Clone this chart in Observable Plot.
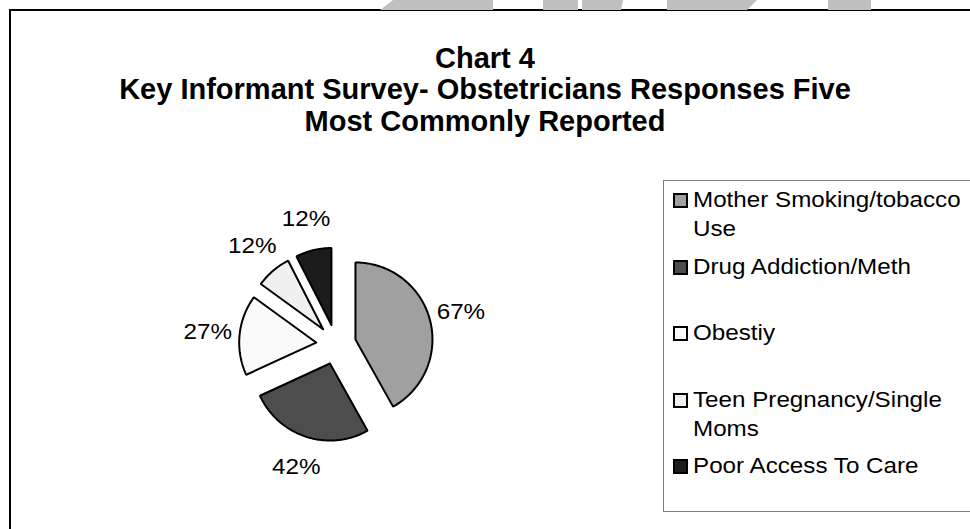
<!DOCTYPE html>
<html>
<head>
<meta charset="utf-8">
<script src="https://cdn.jsdelivr.net/npm/d3@7"></script>
<script src="https://cdn.jsdelivr.net/npm/@observablehq/plot@0.6"></script>
<style>
  html, body { margin: 0; padding: 0; width: 970px; height: 529px; overflow: hidden; background: #fff; }
  #frame { position: absolute; left: 9px; top: 9px; width: 2000px; height: 2000px; border-left: 2px solid #000; border-top: 2px solid #000; }
  .wm { position: absolute; top: 0; height: 10px; background: #c0c0c0; }
  #title { position: absolute; left: 0; top: 42.5px; width: 970px; text-align: center;
           font-family: "Liberation Sans Narrow", "Arial Narrow", "Liberation Sans", sans-serif;
           font-weight: bold; font-size: 29px; line-height: 31.5px; color: #000; }
  #chart { position: absolute; left: 0; top: 0; }
  #legend { position: absolute; left: 663px; top: 180px; width: 400px; height: 330px;
            border: 1.5px solid #7f7f7f; background: #fff; }
  .item { position: absolute; left: 0; width: 300px; height: 66px; }
  .sw { position: absolute; left: 9px; top: 8px; width: 11px; height: 11px; border: 2px solid #000; }
  .lt { position: absolute; left: 29px; top: 0; width: 248px; font-family: "Liberation Sans", Arial, sans-serif;
        font-size: 22px; line-height: 29px; color: #000; transform: scaleX(1.1); transform-origin: 0 0; }
</style>
</head>
<body>
<div id="frame"></div>
<div class="wm" style="left:380px;width:113px;clip-path:polygon(13px 0,113px 0,113px 100%,0 100%);"></div>
<div class="wm" style="left:543px;width:35px;"></div>
<div class="wm" style="left:582px;width:41px;clip-path:polygon(0 0,100% 0,39px 100%,0 100%);"></div>
<div class="wm" style="left:667px;width:90px;clip-path:polygon(0 0,100% 0,80px 100%,0 100%);"></div>
<div class="wm" style="left:828px;width:43px;"></div>
<div id="chart"></div>
<div id="title">Chart 4<br>Key Informant Survey- Obstetricians Responses Five<br>Most Commonly Reported</div>
<div id="legend"></div>
<script>
// ---- data ----
const categories = ["Mother Smoking/tobacco Use", "Drug Addiction/Meth", "Obestiy", "Teen Pregnancy/Single Moms", "Poor Access To Care"];
const values = [67, 42, 27, 12, 12];
const valueLabels = ["67%", "42%", "27%", "12%", "12%"];

// ---- style / layout ----
const colors = ["#a0a0a0", "#4d4d4d", "#fafafa", "#f0f0f0", "#1c1c1c"];
const W = 970, H = 529;
const cx = 335.6, cy = 344, r = 77;
const explode = 20 / r;
const labelDist = 129 / r;

const arcs = d3.pie().sort(null)(values);
const pts = [];
const lab = [];
arcs.forEach((a, i) => {
  const mid = (a.startAngle + a.endAngle) / 2;
  const ox = explode * Math.sin(mid), oy = explode * Math.cos(mid);
  pts.push({key: categories[i], x: ox, y: oy});
  const n = Math.max(4, Math.ceil((a.endAngle - a.startAngle) / (Math.PI / 180)));
  for (let k = 0; k <= n; k++) {
    const t = a.startAngle + (a.endAngle - a.startAngle) * k / n;
    pts.push({key: categories[i], x: ox + Math.sin(t), y: oy + Math.cos(t)});
  }
  pts.push({key: categories[i], x: ox, y: oy});
  lab.push({x: labelDist * Math.sin(mid), y: labelDist * Math.cos(mid), text: valueLabels[i]});
});

const plot = Plot.plot({
  width: W, height: H,
  margin: 0,
  style: {background: "none", overflow: "visible"},
  x: {domain: [-cx / r, (W - cx) / r], axis: null},
  y: {domain: [(cy - H) / r, cy / r], axis: null},
  color: {type: "ordinal", domain: categories, range: colors},
  marks: [
    Plot.line(pts, {x: "x", y: "y", z: "key", fill: "key", stroke: "#000", strokeWidth: 2, strokeLinejoin: "miter", curve: "linear"}),
    Plot.text(lab, {x: "x", y: "y", text: "text", fontSize: 22, fontFamily: "Liberation Sans, Arial, sans-serif", fill: "#000"})
  ]
});
document.getElementById("chart").appendChild(plot);
// widen the percentage labels slightly, as in the reference rendering
plot.querySelectorAll("text").forEach(t => {
  const L = t.getComputedTextLength();
  if (L > 0) { t.setAttribute("textLength", (L * 1.1).toFixed(1)); t.setAttribute("lengthAdjust", "spacingAndGlyphs"); }
});

// legend
const legend = document.getElementById("legend");
categories.forEach((c, i) => {
  const it = document.createElement("div");
  it.className = "item";
  it.style.top = (4 + i * 66.5) + "px";
  const sw = document.createElement("div");
  sw.className = "sw";
  sw.style.background = colors[i];
  const t = document.createElement("div");
  t.className = "lt";
  t.textContent = c;
  it.appendChild(sw); it.appendChild(t);
  legend.appendChild(it);
});
</script>
</body>
</html>
